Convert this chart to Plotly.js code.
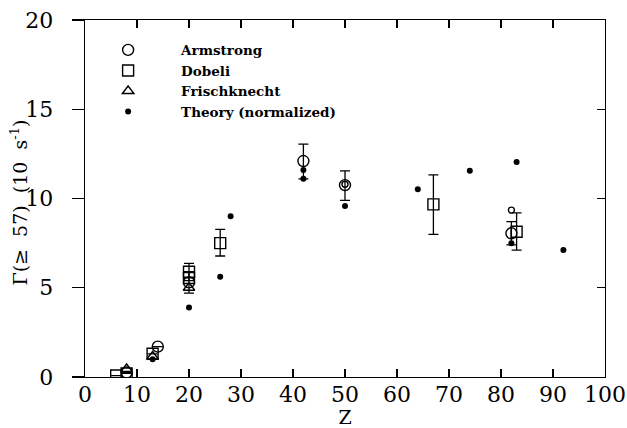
<!DOCTYPE html>
<html>
<head>
<meta charset="utf-8">
<script src="https://cdn.plot.ly/plotly-3.0.1.min.js"></script>
<style>html,body{margin:0;padding:0;background:#fff;}#chart{width:627px;height:428px;}</style>
</head>
<body>
<div id="chart"></div>
<script>
// Armstrong (open circles)
const armZ = [8, 14, 20, 42, 50, 82];
const armVal = [0.25, 1.7, 5.3, 12.1, 10.75, 8.05];
const armErrPlus = [0, 0, 0.6, 0.95, 0.8, 0.65];
const armErrMinus = [0, 0, 0.6, 1.0, 0.85, 0.65];
// Armstrong secondary (small circles)
const armSmallZ = [50, 82];
const armSmallVal = [10.8, 9.35];
// Dobeli (open squares)
const dobZ = [6, 8, 13, 20, 20, 26, 67, 83];
const dobVal = [0.08, 0.2, 1.3, 5.9, 5.55, 7.5, 9.67, 8.14];
const dobErrPlus = [0, 0, 0, 0.47, 0, 0.77, 1.65, 1.06];
const dobErrMinus = [0, 0, 0, 0.5, 0, 0.72, 1.68, 1.03];
// Frischknecht (open triangles)
const friZ = [8, 13, 20];
const friVal = [0.45, 1.15, 5.0];
// Theory (normalized) (filled dots)
const thZ = [13, 20, 26, 28, 42, 42, 50, 64, 74, 82, 83, 92];
const thVal = [1.0, 3.9, 5.62, 9.0, 11.6, 11.1, 9.58, 10.52, 11.56, 7.5, 12.04, 7.11];
// Axis ticks
const xTicks = [0, 10, 20, 30, 40, 50, 60, 70, 80, 90, 100];
const yTicks = [0, 5, 10, 15, 20];
const yTitle = 'Γ(≥  57)  (10  s<sup>-1</sup>)';

const serif = "DejaVu Serif";
const errStyle = {type: 'data', symmetric: false, color: '#000', thickness: 1.3, width: 5};

const traces = [
  {x: armZ, y: armVal, type: 'scatter', mode: 'markers', name: 'Armstrong',
   marker: {symbol: 'circle-open', size: 11, color: '#000', line: {width: 1.4}},
   error_y: Object.assign({array: armErrPlus, arrayminus: armErrMinus}, errStyle)},
  {x: dobZ, y: dobVal, type: 'scatter', mode: 'markers', name: 'Dobeli',
   marker: {symbol: 'square-open', size: 11, color: '#000', line: {width: 1.4}},
   error_y: Object.assign({array: dobErrPlus, arrayminus: dobErrMinus}, errStyle)},
  {x: friZ, y: friVal, type: 'scatter', mode: 'markers', name: 'Frischknecht',
   marker: {symbol: 'triangle-up-open', size: 10, color: '#000', line: {width: 1.4}}},
  {x: thZ, y: thVal, type: 'scatter', mode: 'markers', name: 'Theory (normalized)',
   marker: {symbol: 'circle', size: 6, color: '#000'}},
  {x: armSmallZ, y: armSmallVal, type: 'scatter', mode: 'markers', showlegend: false,
   marker: {symbol: 'circle-open', size: 6, color: '#000', line: {width: 1.4}}},
  {x: [null], y: [null], yaxis: 'y2', type: 'scatter', mode: 'markers', showlegend: false}
];

const layout = {
  width: 627, height: 428,
  margin: {l: 85, r: 22, t: 20, b: 51},
  paper_bgcolor: '#fff', plot_bgcolor: '#fff',
  font: {family: serif, color: '#000', size: 22},
  showlegend: true,
  legend: {x: -0.019, y: 0.959, xanchor: 'left', yanchor: 'top', bgcolor: 'rgba(0,0,0,0)',
           itemwidth: 96, tracegroupgap: 0,
           font: {family: serif, size: 13.5, weight: 'bold', color: '#000'}},
  xaxis: {range: [0, 100], tickvals: xTicks, ticktext: xTicks.map(String),
          ticks: 'inside', ticklen: 8, tickwidth: 1.3, tickcolor: '#000',
          showline: true, linecolor: '#000', linewidth: 1.3, mirror: 'ticks',
          showgrid: false, zeroline: false, ticklabelstandoff: -3,
          tickfont: {family: serif, size: 22},
          title: {text: 'Z', font: {family: serif, size: 19}, standoff: 8}},
  yaxis: {range: [0, 20], tickvals: yTicks, ticktext: yTicks.map(String),
          ticks: 'outside', ticklen: 12, tickwidth: 1.3, tickcolor: '#000',
          showline: true, linecolor: '#000', linewidth: 1.3, mirror: true,
          showgrid: false, zeroline: false, ticklabelstandoff: 14,
          tickfont: {family: serif, size: 22}},
  yaxis2: {range: [0, 20], tickvals: yTicks, overlaying: 'y', side: 'right',
           ticks: 'inside', ticklen: 8, tickwidth: 1.3, tickcolor: '#000',
           showticklabels: false, showline: false, showgrid: false, zeroline: false},
  annotations: [
    {text: yTitle, xref: 'paper', yref: 'paper', x: -0.126, y: 0.49,
     xanchor: 'center', yanchor: 'middle', textangle: -90, showarrow: false,
     font: {family: serif, size: 19, color: '#000'}}
  ]
};

Plotly.newPlot('chart', traces, layout, {displayModeBar: false, staticPlot: true});
</script>
</body>
</html>
